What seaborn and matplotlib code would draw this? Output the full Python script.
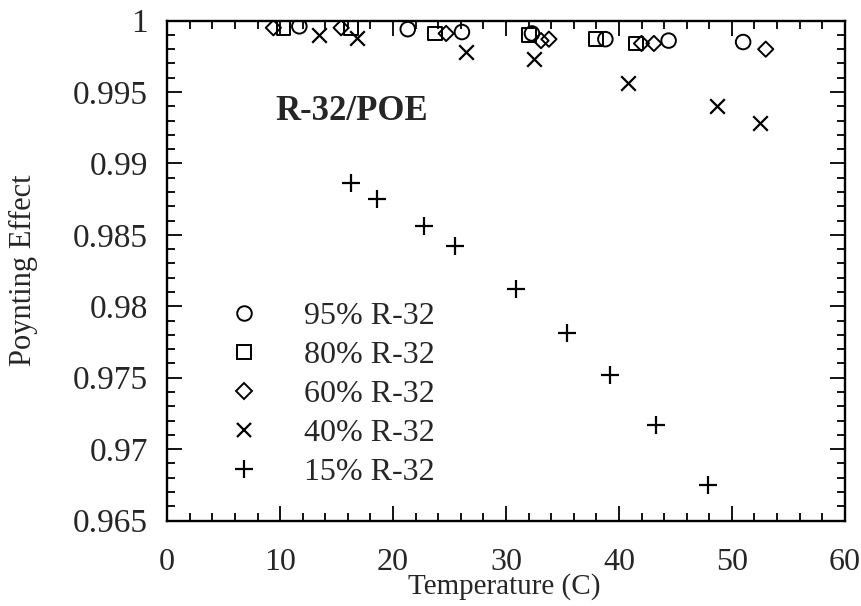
import matplotlib
matplotlib.use("Agg")
import matplotlib.pyplot as plt
from matplotlib.ticker import MultipleLocator, FuncFormatter
from matplotlib.lines import Line2D
import seaborn as sns
import pandas as pd

# Poynting effect vs. temperature for R-32/POE mixtures
temp_95 = [11.7, 21.3, 26.1, 32.3, 38.8, 44.4, 51.0]
pe_95 = [0.9996, 0.9994, 0.9992, 0.9991, 0.9987, 0.9986, 0.9985]

temp_80 = [10.3, 16.3, 23.7, 32.0, 38.0, 41.5]
pe_80 = [0.9995, 0.9995, 0.9991, 0.9990, 0.9987, 0.9984]

temp_60 = [9.4, 15.4, 24.7, 33.1, 33.8, 42.0, 43.1, 53.0]
pe_60 = [0.9995, 0.9995, 0.9991, 0.9986, 0.9987, 0.9984, 0.9984, 0.9980]

temp_40 = [13.4, 16.8, 26.5, 32.5, 40.8, 48.7, 52.5]
pe_40 = [0.9990, 0.9988, 0.9978, 0.9973, 0.9956, 0.9940, 0.9928]

temp_15 = [16.3, 18.6, 22.7, 25.5, 30.9, 35.4, 39.2, 43.3, 47.9]
pe_15 = [0.9886, 0.9875, 0.9856, 0.9842, 0.9812, 0.9781, 0.9752, 0.9717, 0.9675]

labels = ["95% R-32", "80% R-32", "60% R-32", "40% R-32", "15% R-32"]
series = [(temp_95, pe_95), (temp_80, pe_80), (temp_60, pe_60),
          (temp_40, pe_40), (temp_15, pe_15)]
markers = ["o", "s", "D", "x", "+"]
sizes = [110, 100, 60, 110, 170]

sns.set_theme(style="ticks")
plt.rcParams["font.family"] = ["Liberation Serif", "DejaVu Serif"]

fig = plt.figure(figsize=(8.62, 6.06), dpi=100)
ax = fig.add_axes([0.194, 0.141, 0.786, 0.825])

frames = []
for (t, p), lab in zip(series, labels):
    frames.append(pd.DataFrame({"Temperature": t, "Poynting": p, "Mixture": lab}))
df = pd.concat(frames, ignore_index=True)

for lab, m, s in zip(labels, markers, sizes):
    sub = df[df["Mixture"] == lab]
    if m in ("x", "+"):
        sns.scatterplot(data=sub, x="Temperature", y="Poynting", marker=m, s=s,
                        color="black", linewidth=1.6, ax=ax, legend=False)
    else:
        sns.scatterplot(data=sub, x="Temperature", y="Poynting", marker=m, s=s,
                        facecolors="none", edgecolors="black", linewidth=1.4,
                        ax=ax, legend=False)

ax.set_xlim(0, 60)
ax.set_ylim(0.965, 1.0)
ax.xaxis.set_major_locator(MultipleLocator(10))
ax.xaxis.set_minor_locator(MultipleLocator(2))
ax.yaxis.set_major_locator(MultipleLocator(0.005))
ax.yaxis.set_minor_locator(MultipleLocator(0.001))
ax.yaxis.set_major_formatter(FuncFormatter(lambda v, _: f"{v:g}"))

ax.tick_params(which="both", direction="in", top=True, right=True,
               color="black", width=1.3)
ax.tick_params(axis="x", which="major", length=11, pad=20, labelsize=23)
ax.tick_params(axis="y", which="major", length=11, pad=14, labelsize=24)
ax.tick_params(which="minor", length=6)
for sp in ax.spines.values():
    sp.set_linewidth(1.7)
    sp.set_color("black")

ax.set_xlabel("Temperature (C)", fontsize=21)
ax.set_ylabel("Poynting Effect", fontsize=22)
ax.xaxis.set_label_coords(0.498, -0.105)
ax.yaxis.set_label_coords(-0.19, 0.5)

ax.text(0.159, 0.818, "R-32/POE", transform=ax.transAxes, fontsize=25,
        fontweight="bold", ha="left", va="center")

handles = []
for m, s in zip(markers, sizes):
    if m in ("x", "+"):
        handles.append(Line2D([], [], linestyle="none", marker=m, color="black",
                              markersize=s ** 0.5, markeredgewidth=1.6))
    else:
        handles.append(Line2D([], [], linestyle="none", marker=m,
                              markerfacecolor="none", markeredgecolor="black",
                              markersize=s ** 0.5, markeredgewidth=1.4))
ax.legend(handles, labels, loc="upper left", bbox_to_anchor=(0.088, 0.437),
          frameon=False, fontsize=23, handlelength=1.1, handletextpad=1.3,
          labelspacing=0.3, borderpad=0, borderaxespad=0)

fig.savefig("out.png", dpi=100)
